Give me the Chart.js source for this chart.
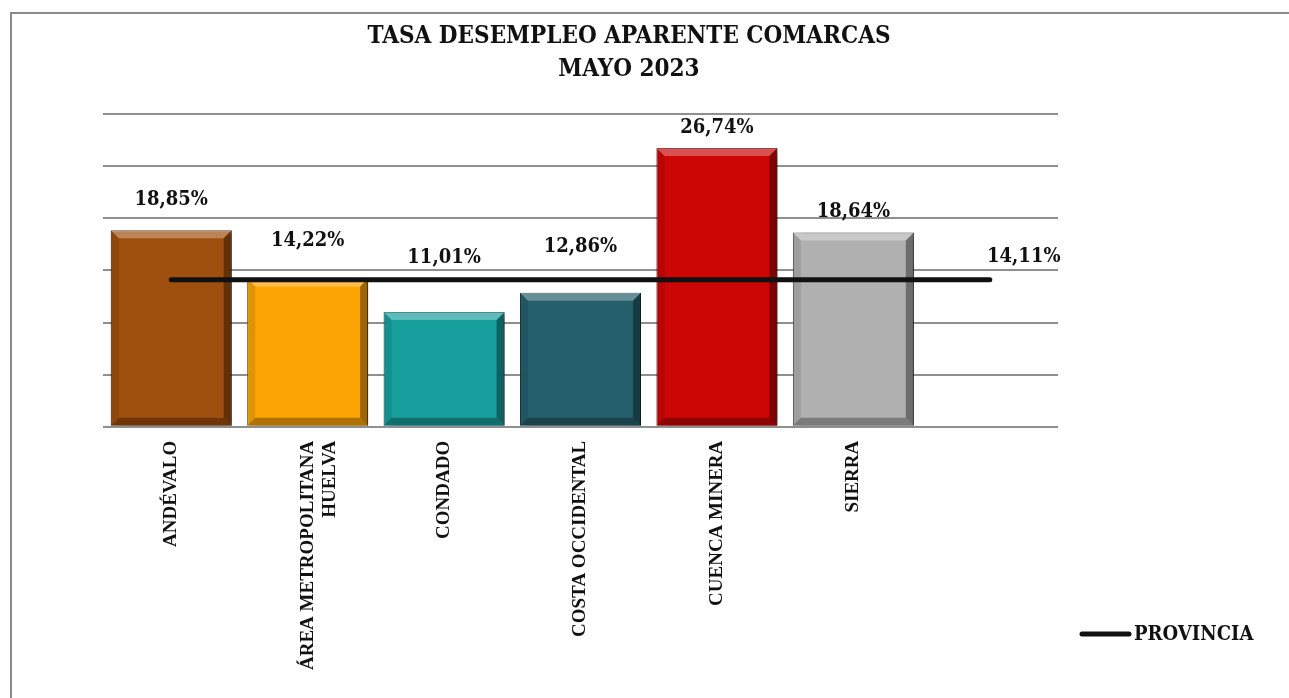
<!DOCTYPE html>
<html>
<head>
<meta charset="utf-8">
<script src="https://cdn.jsdelivr.net/npm/chart.js@4.4.0/dist/chart.umd.min.js"></script>
<style>
  html, body { margin: 0; padding: 0; background: #fff; overflow: hidden; }
  #frame { position: absolute; left: 10px; top: 12px; width: 1300px; height: 700px; border: 2px solid #8a8a8a; }
  #wrap { position: absolute; left: 0; top: 0; width: 1258px; height: 698px; }
</style>
</head>
<body>
<div id="frame"></div>
<div id="wrap"><canvas id="desempleoChart" width="1258" height="698"></canvas></div>
<script>
// Tasa de desempleo aparente por comarcas - mayo 2023

const comarcas = ['ANDÉVALO', ['ÁREA METROPOLITANA', 'HUELVA'], 'CONDADO', 'COSTA OCCIDENTAL', 'CUENCA MINERA', 'SIERRA', ''];
const tasaComarca = [18.85, 14.22, 11.01, 12.86, 26.74, 18.64, null];
const tasaProvincia = [14.11, 14.11, 14.11, 14.11, 14.11, 14.11, 14.11];
const etiquetasComarca = ['18,85%', '14,22%', '11,01%', '12,86%', '26,74%', '18,64%', ''];
const etiquetaProvincia = '14,11%';

const barColors = ['#a0500e', '#fba404', '#17a09e', '#255f6c', '#cc0505', '#b0b0b0', '#ffffff'];
const barBorders = ['#4a2204', '#8a5500', '#0b5f5e', '#123740', '#6a0000', '#555555', '#ffffff'];
// distance (px) from bar top to the middle of its value label, as placed in the original
const labelLift = [30, 38, 54, 46, 20, 21, 0];

const serifFamily = '"DejaVu Serif Condensed", "DejaVu Serif", serif';
const labelFont = 'bold 20px ' + serifFamily;

// bevel + shadow look for the bars
const bevelPlugin = {
  id: 'bevel',
  beforeDatasetDraw(chart, args) {
    if (args.index !== 0) return;
    const ctx = chart.ctx;
    ctx.save();
    ctx.shadowColor = 'rgba(0,0,0,0.45)';
    ctx.shadowBlur = 7;
    ctx.shadowOffsetX = 5;
    ctx.shadowOffsetY = 2;
  },
  afterDatasetDraw(chart, args) {
    if (args.index !== 0) return;
    const ctx = chart.ctx;
    ctx.restore();
    const meta = chart.getDatasetMeta(0);
    const b = 8;
    meta.data.forEach((bar, i) => {
      if (tasaComarca[i] == null) return;
      const l = bar.x - bar.width / 2, r = bar.x + bar.width / 2;
      const t = bar.y, btm = bar.base;
      const poly = (pts, color) => {
        ctx.beginPath();
        ctx.moveTo(pts[0][0], pts[0][1]);
        pts.slice(1).forEach(p => ctx.lineTo(p[0], p[1]));
        ctx.closePath();
        ctx.fillStyle = color;
        ctx.fill();
      };
      ctx.save();
      poly([[l, t], [r, t], [r - b, t + b], [l + b, t + b]], 'rgba(255,255,255,0.30)');
      poly([[l, t], [l + b, t + b], [l + b, btm - b], [l, btm]], 'rgba(0,0,0,0.10)');
      poly([[r, t], [r, btm], [r - b, btm - b], [r - b, t + b]], 'rgba(0,0,0,0.38)');
      poly([[l, btm], [l + b, btm - b], [r - b, btm - b], [r, btm]], 'rgba(0,0,0,0.30)');
      ctx.restore();
    });
  }
};

// value labels above bars and at the end of the provincia line
const valueLabels = {
  id: 'valueLabels',
  afterDatasetsDraw(chart) {
    const ctx = chart.ctx;
    ctx.save();
    ctx.font = labelFont;
    ctx.fillStyle = '#111';
    ctx.textAlign = 'center';
    ctx.textBaseline = 'middle';
    chart.getDatasetMeta(0).data.forEach((bar, i) => {
      if (!etiquetasComarca[i]) return;
      ctx.fillText(etiquetasComarca[i], bar.x, bar.y - labelLift[i]);
    });
    const pts = chart.getDatasetMeta(1).data;
    const last = pts[pts.length - 1];
    ctx.fillText(etiquetaProvincia, last.x + 34, last.y - 23);
    ctx.restore();
  }
};

// legend drawn by hand, bottom right
const provinciaLegend = {
  id: 'provinciaLegend',
  afterDraw(chart) {
    const ctx = chart.ctx;
    const x = chart.chartArea.right + 24;
    const y = 634;
    ctx.save();
    ctx.strokeStyle = '#111';
    ctx.lineWidth = 5;
    ctx.lineCap = 'round';
    ctx.beginPath();
    ctx.moveTo(x, y);
    ctx.lineTo(x + 47, y);
    ctx.stroke();
    ctx.font = labelFont;
    ctx.fillStyle = '#111';
    ctx.textBaseline = 'middle';
    ctx.fillText('PROVINCIA', x + 52, y + 1);
    ctx.restore();
  }
};

new Chart(document.getElementById('desempleoChart'), {
  data: {
    labels: comarcas,
    datasets: [
      {
        type: 'bar',
        label: 'Comarcas',
        data: tasaComarca,
        backgroundColor: barColors,
        borderColor: barBorders,
        borderWidth: 1,
        categoryPercentage: 0.9,
        barPercentage: 0.985,
        order: 1
      },
      {
        type: 'line',
        label: 'PROVINCIA',
        data: tasaProvincia,
        borderColor: '#111',
        borderWidth: 5,
        borderCapStyle: 'round',
        pointRadius: 0,
        tension: 0,
        order: 0
      }
    ]
  },
  options: {
    responsive: false,
    animation: false,
    layout: {
      padding: { left: 0, right: 0, top: 20, bottom: 14 }
    },
    plugins: {
      legend: { display: false },
      tooltip: { enabled: false },
      title: {
        display: true,
        text: ['TASA DESEMPLEO APARENTE COMARCAS', 'MAYO 2023'],
        color: '#111',
        font: { family: serifFamily, size: 24, weight: 'bold', lineHeight: 1.375 },
        padding: { top: 0, bottom: 28 }
      }
    },
    scales: {
      y: {
        min: 0,
        max: 30,
        ticks: { display: false, stepSize: 5 },
        grid: { color: '#8f8f8f', lineWidth: 2, drawTicks: false },
        border: { display: false },
        afterFit(scale) { scale.width = 103; }
      },
      spacer: {
        position: 'right',
        ticks: { display: false },
        grid: { display: false, drawTicks: false },
        border: { display: false },
        afterFit(scale) { scale.width = 200; }
      },
      x: {
        grid: { display: false, drawTicks: false },
        border: { display: false },
        ticks: {
          color: '#111',
          minRotation: 90,
          maxRotation: 90,
          autoSkip: false,
          padding: 14,
          font: { family: 'Liberation Serif', size: 19, weight: 'bold', lineHeight: 1.16 }
        }
      }
    }
  },
  plugins: [bevelPlugin, valueLabels, provinciaLegend]
});
</script>
</body>
</html>
